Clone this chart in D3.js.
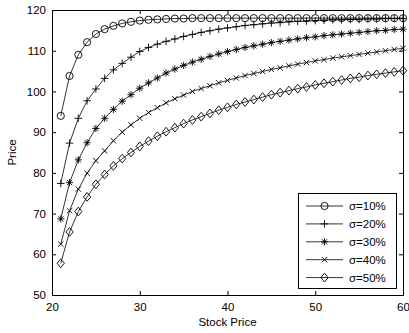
<!DOCTYPE html>
<html>
<head>
<meta charset="utf-8">
<script src="https://cdn.jsdelivr.net/npm/d3@7/dist/d3.min.js"></script>
<style>
  html, body { margin: 0; padding: 0; background: #fff; }
  svg { display: block; }
  text { font-family: "Liberation Sans", Arial, Helvetica, sans-serif; fill: #000; }
</style>
</head>
<body>
<svg id="chart" width="409" height="333"></svg>
<script>
// Stock prices (x) for every curve
const stockPrices = d3.range(21, 61);

// Price curves for each volatility level
const sigma10 = [94.0, 103.8, 109.0, 112.1, 114.1, 115.3, 116.1, 116.7, 117.1, 117.4,
  117.6, 117.7, 117.8, 117.9, 117.9, 118.0, 118.0, 118.0, 118.0, 118.0,
  118.0, 118.0, 118.0, 118.0, 118.0, 118.0, 118.0, 118.0, 118.0, 118.0,
  118.0, 118.0, 118.0, 118.0, 118.0, 118.0, 118.0, 118.0, 118.0, 118.0];
const sigma20 = [77.4, 87.3, 93.4, 97.7, 100.6, 103.2, 105.3, 106.9, 108.4, 109.8,
  110.8, 111.6, 112.3, 112.9, 113.5, 114.0, 114.5, 114.9, 115.3, 115.6,
  115.9, 116.2, 116.4, 116.6, 116.8, 116.9, 117.1, 117.2, 117.3, 117.4,
  117.5, 117.6, 117.6, 117.7, 117.7, 117.8, 117.8, 117.9, 117.9, 117.9];
const sigma30 = [68.7, 77.6, 83.2, 87.4, 90.9, 93.4, 95.6, 97.6, 99.2, 100.8,
  102.1, 103.3, 104.5, 105.5, 106.4, 107.2, 107.9, 108.6, 109.2, 109.8,
  110.3, 110.8, 111.2, 111.6, 112.0, 112.3, 112.6, 112.9, 113.2, 113.4,
  113.7, 113.9, 114.1, 114.3, 114.5, 114.7, 114.9, 115.0, 115.2, 115.3];
const sigma40 = [62.5, 70.7, 76.0, 79.9, 83.0, 85.4, 87.9, 90.0, 91.8, 93.4,
  94.8, 96.0, 97.2, 98.2, 99.1, 100.0, 100.7, 101.4, 102.1, 102.7,
  103.3, 103.9, 104.4, 104.9, 105.4, 105.8, 106.3, 106.7, 107.1, 107.5,
  107.8, 108.2, 108.5, 108.8, 109.1, 109.4, 109.7, 110.0, 110.3, 110.6];
const sigma50 = [57.8, 65.5, 70.5, 74.1, 77.2, 79.6, 81.7, 83.5, 85.0, 86.5,
  87.8, 89.0, 90.1, 91.1, 92.1, 93.0, 93.8, 94.6, 95.4, 96.1,
  96.8, 97.4, 98.0, 98.6, 99.2, 99.7, 100.2, 100.7, 101.1, 101.6,
  102.0, 102.4, 102.8, 103.2, 103.5, 103.9, 104.2, 104.5, 104.8, 105.1];

const seriesNames = ["σ=10%", "σ=20%", "σ=30%", "σ=40%", "σ=50%"];
const seriesMarkers = ["circle", "plus", "star", "cross", "diamond"];
const seriesValues = [sigma10, sigma20, sigma30, sigma40, sigma50];

const xTicks = [20, 30, 40, 50, 60];
const yTicks = [50, 60, 70, 80, 90, 100, 110, 120];

const svg = d3.select("#chart");
const plot = { left: 52, top: 10, right: 403, bottom: 295 };

const x = d3.scaleLinear().domain([20, 60]).range([plot.left, plot.right]);
const y = d3.scaleLinear().domain([50, 120]).range([plot.bottom, plot.top]);

// Axes with inward ticks on all four sides (boxed plot)
function styleAxis(g) {
  g.select(".domain").remove();
  g.selectAll(".tick line").attr("stroke", "#000").attr("stroke-width", 1);
  g.selectAll(".tick text").attr("font-size", 11.5).attr("fill", "#000")
    .style("font-family", "'Liberation Sans', Arial, sans-serif");
}

svg.append("g").attr("transform", `translate(0,${plot.bottom})`)
  .call(d3.axisBottom(x).tickValues(xTicks).tickSize(-4).tickPadding(8).tickFormat(d3.format("d")))
  .call(styleAxis);
svg.append("g").attr("transform", `translate(0,${plot.top})`)
  .call(d3.axisTop(x).tickValues(xTicks).tickSize(-4).tickFormat(""))
  .call(styleAxis);
svg.append("g").attr("transform", `translate(${plot.left},0)`)
  .call(d3.axisLeft(y).tickValues(yTicks).tickSize(-4).tickPadding(6).tickFormat(d3.format("d")))
  .call(styleAxis);
svg.append("g").attr("transform", `translate(${plot.right},0)`)
  .call(d3.axisRight(y).tickValues(yTicks).tickSize(-4).tickFormat(""))
  .call(styleAxis);

svg.append("rect")
  .attr("x", plot.left + 0.5).attr("y", plot.top + 0.5)
  .attr("width", plot.right - plot.left).attr("height", plot.bottom - plot.top)
  .attr("fill", "none").attr("stroke", "#000").attr("stroke-width", 1);

// Marker glyphs
function drawMarker(g, type, cx, cy) {
  const s = "#000", w = 0.9;
  if (type === "circle") {
    g.append("circle").attr("cx", cx).attr("cy", cy).attr("r", 3.6)
      .attr("fill", "none").attr("stroke", s).attr("stroke-width", w);
  } else if (type === "plus") {
    g.append("path").attr("d", `M${cx - 3.8},${cy}H${cx + 3.8}M${cx},${cy - 3.8}V${cy + 3.8}`)
      .attr("stroke", s).attr("stroke-width", w);
  } else if (type === "star") {
    const a = 3.6, b = 2.6;
    g.append("path").attr("d",
      `M${cx - a},${cy}H${cx + a}M${cx},${cy - a}V${cy + a}` +
      `M${cx - b},${cy - b}L${cx + b},${cy + b}M${cx - b},${cy + b}L${cx + b},${cy - b}`)
      .attr("stroke", s).attr("stroke-width", w);
  } else if (type === "cross") {
    const b = 2.7;
    g.append("path").attr("d", `M${cx - b},${cy - b}L${cx + b},${cy + b}M${cx - b},${cy + b}L${cx + b},${cy - b}`)
      .attr("stroke", s).attr("stroke-width", w);
  } else if (type === "diamond") {
    g.append("path").attr("d", `M${cx},${cy - 4.4}L${cx + 3.6},${cy}L${cx},${cy + 4.4}L${cx - 3.6},${cy}Z`)
      .attr("fill", "none").attr("stroke", s).attr("stroke-width", w);
  }
}

const line = d3.line().x((d, i) => x(stockPrices[i])).y(d => y(d));

seriesValues.forEach((vals, k) => {
  const g = svg.append("g");
  g.append("path").datum(vals).attr("d", line)
    .attr("fill", "none").attr("stroke", "#000").attr("stroke-width", 0.8);
  vals.forEach((v, i) => drawMarker(g, seriesMarkers[k], x(stockPrices[i]), y(v)));
});

// Axis titles
svg.append("text").attr("x", (plot.left + plot.right) / 2).attr("y", 326)
  .attr("text-anchor", "middle").attr("font-size", 11.5).text("Stock Price");
svg.append("text").attr("transform", `translate(16,${(plot.top + plot.bottom) / 2}) rotate(-90)`)
  .attr("text-anchor", "middle").attr("font-size", 11.5).text("Price");

// Legend
const legend = svg.append("g");
legend.append("rect").attr("x", 298.5).attr("y", 193.5).attr("width", 98).attr("height", 95)
  .attr("fill", "#fff").attr("stroke", "#000").attr("stroke-width", 1);
seriesNames.forEach((name, k) => {
  const ly = 206 + k * 17.9;
  legend.append("line").attr("x1", 306).attr("x2", 343).attr("y1", ly).attr("y2", ly)
    .attr("stroke", "#000").attr("stroke-width", 0.8);
  drawMarker(legend, seriesMarkers[k], 324.5, ly);
  legend.append("text").attr("x", 349).attr("y", ly + 4).attr("font-size", 11.5).text(name);
});
</script>
</body>
</html>
